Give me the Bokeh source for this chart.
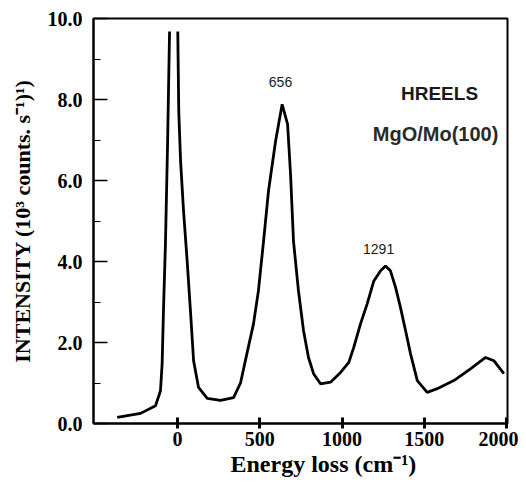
from bokeh.plotting import figure
from bokeh.models import ColumnDataSource, FixedTicker, Range1d, CustomJSTickFormatter, Title
from bokeh.core.properties import value
from bokeh.embed import file_html
from bokeh.resources import INLINE

# Energy loss (cm-1) and intensity (10^3 counts/s); the elastic peak runs off the top (gap)
energy = [-366, -224, -133, -103, -93, -85, -73, -60, -48, float("nan"),
          2, 8, 19, 37, 59, 79, 98, 128, 181, 262, 341, 383, 426, 462, 492, 523,
          553, 596, 636, 669, 687, 705, 735, 766, 796, 827, 869, 930, 991, 1041,
          1071, 1112, 1153, 1193, 1234, 1264, 1294, 1325, 1355, 1386, 1416, 1457,
          1517, 1578, 1679, 1780, 1872, 1922, 1983]
intensity = [0.15, 0.25, 0.44, 0.81, 1.48, 2.78, 4.43, 6.9, 9.68, float("nan"),
             9.68, 7.7, 6.48, 5.25, 4.01, 2.78, 1.55, 0.89, 0.62, 0.57, 0.64, 1.0, 1.8, 2.46, 3.28, 4.5,
             5.74, 6.97, 7.88, 7.39, 6.16, 4.5, 3.28, 2.29, 1.63, 1.23, 0.98, 1.02, 1.26, 1.51,
             1.88, 2.46, 2.96, 3.52, 3.77, 3.89, 3.77, 3.36, 2.86, 2.29, 1.72, 1.06,
             0.77, 0.86, 1.06, 1.35, 1.63, 1.55, 1.23]

x_ticks = [0, 500, 1000, 1500, 2000]
y_ticks = [0, 2, 4, 6, 8, 10]
y_minor = [1, 3, 5, 7, 9]

peak_labels = ["656", "1291"]
peak_label_x = [626, 1222]
peak_label_y = [8.42, 4.30]

title_lines = ["HREELS", "MgO/Mo(100)"]
title_x = [1592, 1568]
title_y = [8.16, 7.14]

x_title = "Energy loss (cm\u207b\u00b9)"
y_title = "INTENSITY (10\u00b3 counts. s\u207b\u00b9)\u00b9)"

p = figure(width=518, height=481, output_backend="svg", toolbar_location=None,
           x_range=Range1d(-510, 2005), y_range=Range1d(0, 10),
           min_border_left=93, min_border_right=11, min_border_top=18, min_border_bottom=58)
p.grid.visible = False
p.outline_line_color = "black"
p.outline_line_width = 2
p.background_fill_color = "white"
p.border_fill_color = "white"

p.line(energy, intensity, line_color="black", line_width=2.8)

serif = "Liberation Serif"
p.xaxis.ticker = FixedTicker(ticks=x_ticks)
p.yaxis.ticker = FixedTicker(ticks=y_ticks, minor_ticks=y_minor)
p.yaxis.formatter = CustomJSTickFormatter(code="return tick.toFixed(1);")

for ax in (p.xaxis[0], p.yaxis[0]):
    ax.axis_line_width = 2
    ax.axis_line_color = "black"
    ax.major_label_text_font = serif
    ax.major_label_text_font_style = "bold"
    ax.major_label_text_font_size = "20px"
    ax.major_label_text_color = "black"
    ax.axis_label_text_font = serif
    ax.axis_label_text_font_style = "bold"
    ax.axis_label_text_font_size = "22px"
    ax.axis_label_text_color = "black"

p.xaxis.major_tick_in = 6
p.xaxis.major_tick_out = 5
p.xaxis.major_tick_line_width = 3
p.xaxis.minor_tick_line_color = None
p.xaxis.major_label_standoff = 3

p.yaxis.major_tick_in = 14
p.yaxis.major_tick_out = 0
p.yaxis.minor_tick_in = 7
p.yaxis.minor_tick_out = 0
p.yaxis.major_tick_line_width = 1.5
p.yaxis.minor_tick_line_width = 1
p.yaxis.major_label_standoff = 11
p.yaxis.axis_label = y_title
p.yaxis.axis_label_standoff = 10

# x-axis title sits right of centre in the original: a title panel below the axis
p.add_layout(Title(text=x_title, align="left", offset=137, standoff=0,
                   text_font=serif, text_font_style="bold", text_font_size="24px",
                   text_color="black"), "below")

src = ColumnDataSource(dict(x=peak_label_x, y=peak_label_y, t=peak_labels))
p.text(x="x", y="y", text="t", source=src, text_font=value("Liberation Sans"),
       text_font_size="14px", text_align="center", text_baseline="middle", text_color="#1a1a1a")

p.text(x=[title_x[0]], y=[title_y[0]], text=[title_lines[0]], text_font=value("Liberation Sans"),
       text_font_size="19px", text_font_style="bold", text_align="center",
       text_baseline="middle", text_color="#1a1a1a")
p.text(x=[title_x[1]], y=[title_y[1]], text=[title_lines[1]], text_font=value("Liberation Sans"),
       text_font_size="20px", text_font_style="bold", text_align="center",
       text_baseline="middle", text_color="#2a2a2a")

open("out.html", "w").write(file_html(p, INLINE))
